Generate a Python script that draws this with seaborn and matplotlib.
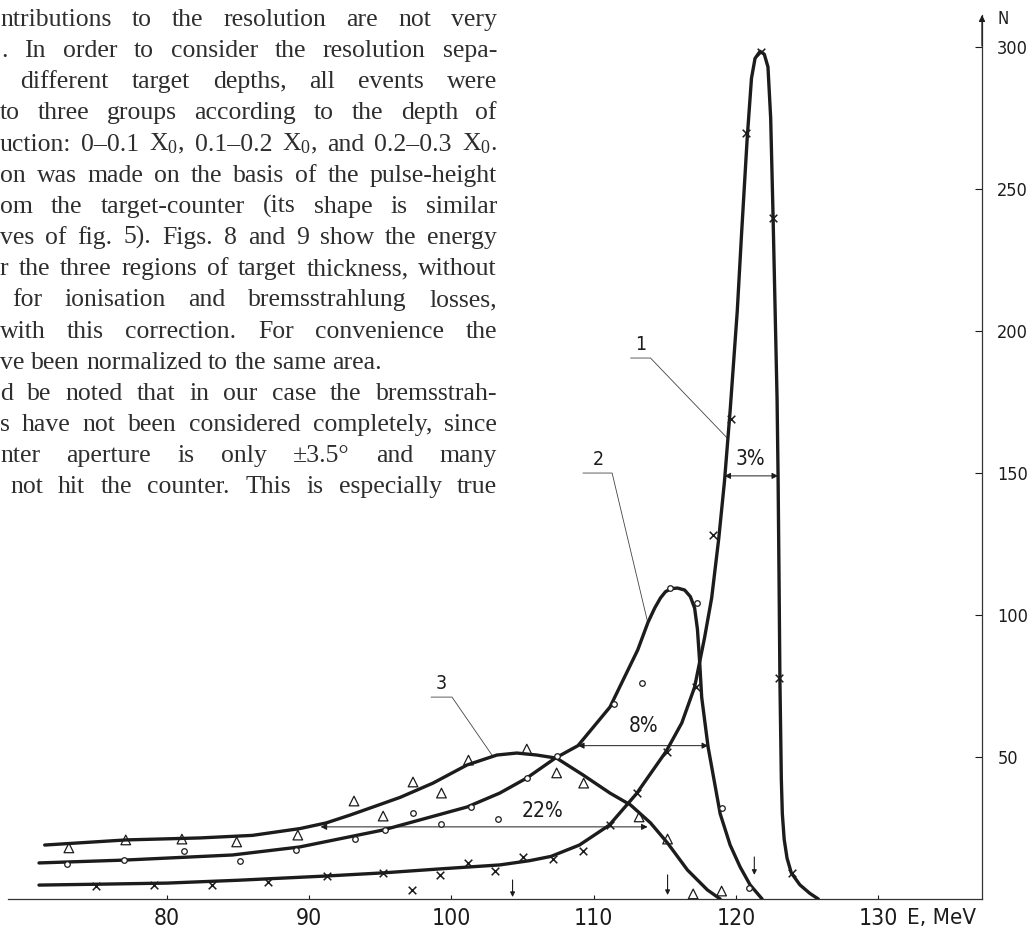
import numpy as np
import pandas as pd
import matplotlib
matplotlib.use("Agg")
import matplotlib.pyplot as plt
import seaborn as sns
from matplotlib import font_manager
from matplotlib.font_manager import FontProperties

# ---------------- data ----------------
# curve 1 (0-0.1 X0, crosses)
E1 = [71.0, 75.0, 80.0, 85.0, 91.2, 95.2, 99.2, 103.4, 105.5, 107.0, 109.0, 111.1,
      113.0, 115.1, 116.2, 117.1, 117.8, 118.3, 118.8, 119.2, 119.6, 120.1, 120.4,
      120.8, 121.1, 121.35, 121.7, 122.0, 122.26, 122.45, 122.62, 122.9, 122.97,
      123.04, 123.1, 123.2, 123.27, 123.4, 123.6, 123.9, 124.5, 125.2, 125.8]
N1 = [4.9, 5.2, 5.6, 6.6, 8.1, 9.2, 10.6, 12.0, 13.5, 15.0, 19.0, 26.0,
      37.0, 52.0, 62.0, 74.6, 92.0, 106.0, 127.0, 147.0, 172.0, 207.0, 234.0,
      268.0, 289.0, 296.0, 298.5, 297.5, 293.0, 275.0, 240.0, 176.0, 149.0,
      112.0, 77.0, 42.0, 30.0, 21.0, 14.4, 9.2, 5.0, 2.0, 0.0]
# curve 2 (0.1-0.2 X0, circles)
E2 = [71.0, 77.0, 84.6, 89.3, 95.2, 101.1, 103.4, 105.3, 107.3, 108.9, 111.15, 113.1,
      113.83, 114.3, 114.7, 115.05, 115.45, 115.9, 116.4, 116.8, 117.1, 117.3, 117.45,
      117.6, 118.05, 118.9, 119.6, 120.3, 121.0, 121.85]
N2 = [12.7, 13.7, 15.5, 18.3, 24.3, 32.4, 37.3, 42.6, 49.6, 54.0, 67.6, 87.7,
      97.5, 102.5, 106.0, 108.2, 109.3, 109.5, 108.8, 106.5, 102.5, 95.0, 84.0,
      71.0, 53.5, 30.0, 19.0, 11.3, 5.0, 0.0]
# curve 3 (0.2-0.3 X0, triangles)
E3 = [71.4, 77.1, 82.3, 86.0, 89.35, 91.2, 92.9, 94.6, 96.4, 98.7, 101.1, 103.2, 104.6,
      106.0, 107.4, 109.25, 111.15, 112.6, 114.0, 115.2, 116.6, 118.0, 118.9]
N3 = [19.0, 20.8, 21.5, 22.4, 24.8, 26.8, 29.6, 32.6, 35.8, 40.8, 47.2, 50.7, 51.4,
      50.7, 49.6, 43.7, 37.3, 33.1, 26.8, 19.7, 10.2, 3.2, 0.0]

# measured points
cross_E = [75.0, 79.1, 83.2, 87.1, 91.25, 95.2, 97.2, 99.2, 101.2, 103.1, 105.0, 107.15,
           109.25, 111.15, 113.05, 115.16, 117.2, 118.4, 119.66, 120.72, 121.77, 122.62,
           123.04, 123.95]
cross_N = [4.6, 4.9, 4.9, 6.0, 8.1, 9.2, 3.2, 8.5, 12.7, 9.9, 14.8, 14.1,
           16.9, 26.1, 37.3, 51.8, 74.6, 128.2, 169.0, 269.7, 298.2, 239.8,
           77.8, 9.2]
circ_E = [73.0, 77.0, 81.2, 85.1, 89.1, 93.2, 95.3, 97.3, 99.3, 101.4, 103.3, 105.3,
          107.4, 111.4, 113.4, 115.4, 117.3, 119.0, 120.9]
circ_N = [12.3, 13.7, 16.9, 13.4, 17.3, 21.1, 24.3, 30.3, 26.4, 32.4, 28.2, 42.6,
          50.4, 68.7, 76.1, 109.5, 104.2, 32.0, 3.9]
tri_E = [73.1, 77.1, 81.05, 84.9, 89.2, 93.15, 95.2, 97.3, 99.3, 101.2, 105.3, 107.4,
         109.3, 113.2, 115.2, 117.0, 119.0]
tri_N = [18.0, 20.8, 21.1, 20.1, 22.5, 34.5, 29.2, 41.2, 37.3, 48.9, 52.8, 44.4,
         40.8, 28.9, 21.1, 1.8, 2.8]

x_ticks = [80, 90, 100, 110, 120, 130]
y_ticks = [50, 100, 150, 200, 250, 300]

widths_lbl = ["3%", "8%", "22%"]
widths_left = [119.2, 108.9, 90.8]
widths_right = [122.97, 118.05, 113.8]
widths_N = [149.0, 54.0, 25.4]
widths_lblE = [121.05, 113.5, 106.4]
widths_lblN = [151.5, 57.5, 27.5]

curve_lbl = ["1", "2", "3"]
curve_lbl_E = [113.3, 110.3, 99.3]
curve_lbl_N = [190.5, 150.0, 71.1]
curve_lbl_x0 = [112.6, 109.25, 98.57]
curve_lbl_x1 = [114.0, 111.3, 100.04]
curve_tip_E = [119.4, 113.8, 102.85]
curve_tip_N = [162.3, 97.5, 50.7]

down_E = [104.3, 115.2, 121.3]
down_top = [6.7, 8.5, 14.8]
down_bot = [0.7, 1.4, 8.5]

text_lines = [
    "ntributions to the resolution are not very",
    ". In order to consider the resolution sepa-",
    "different target depths, all events were",
    "to three groups according to the depth of",
    "uction: 0\u20130.1 X$_0$, 0.1\u20130.2 X$_0$, and 0.2\u20130.3 X$_0$.",
    "on was made on the basis of the pulse-height",
    "om the target-counter (its shape is similar",
    "ves of fig. 5). Figs. 8 and 9 show the energy",
    "r the three regions of target thickness, without",
    "for ionisation and bremsstrahlung losses,",
    "with this correction. For convenience the",
    "ve been normalized to the same area.",
    "d be noted that in our case the bremsstrah-",
    "s have not been considered completely, since",
    "nter aperture is only \u00b13.5\u00b0 and many",
    "not hit the counter. This is especially true",
]
text_left = [0, 1, 20, 0, 0, 0, 0, 0, 0, 12, 0, 0, 0, 0, 0, 10]
text_just = [True] * 16
text_just[11] = False

# ---------------- style ----------------
sns.set_theme(style="white")

def find_narrow():
    cands = []
    for f in font_manager.fontManager.ttflist:
        fn = f.fname.lower()
        st = str(f.stretch).lower()
        if ("condensed" in fn or "narrow" in fn or "condensed" in st
                or "narrow" in st) and "bold" not in fn and "oblique" not in fn \
                and "italic" not in fn and f.weight in (400, "normal", 300, "light"):
            cands.append(f)
    pref = ["DejaVuSansCondensed.ttf", "LiberationSansNarrow-Regular", "RobotoCondensed",
            "Roboto_Condensed", "OpenSans_Condensed", "NotoSans-Condensed"]
    for p in pref:
        for f in cands:
            if p.lower() in f.fname.lower():
                return FontProperties(fname=f.fname)
    if cands:
        return FontProperties(fname=cands[0].fname)
    return FontProperties(family="DejaVu Sans")

narrow_fp = find_narrow()

plt.rcParams["font.family"] = ["Liberation Serif", "DejaVu Serif"]
plt.rcParams["mathtext.fontset"] = "custom"
plt.rcParams["mathtext.rm"] = "Liberation Serif"
plt.rcParams["mathtext.it"] = "Liberation Serif:italic"
plt.rcParams["mathtext.bf"] = "Liberation Serif:bold"

def nfp(size):
    fp = narrow_fp.copy()
    fp.set_size(size)
    return fp

ink = "#1c1c1c"
txt_col = "#2e2e2e"

W, H = 1031, 930
fig = plt.figure(figsize=(W / 100, H / 100), dpi=100)
fig.patch.set_facecolor("white")
ax = fig.add_axes([8 / W, 31 / H, 974 / W, 884 / H])
ax.set_facecolor("none")
ax.set_xlim(68.82, 137.31)
ax.set_ylim(0, 311.3)

for E, N in [(E1, N1), (E2, N2), (E3, N3)]:
    df = pd.DataFrame({"E": E, "N": N})
    sns.lineplot(data=df, x="E", y="N", ax=ax, color=ink, lw=2.4,
                 sort=False, estimator=None, zorder=3)

sns.scatterplot(x=cross_E, y=cross_N, ax=ax, marker="x", s=30, color=ink,
                linewidth=1.1, zorder=4)
sns.scatterplot(x=circ_E, y=circ_N, ax=ax, marker="o", s=16, color=ink, zorder=4)
c = ax.collections[-1]
c.set_facecolor("white"); c.set_edgecolor(ink); c.set_linewidth(0.9)
sns.scatterplot(x=tri_E, y=tri_N, ax=ax, marker="^", s=48, color=ink, zorder=4)
c = ax.collections[-1]
c.set_facecolor("none"); c.set_edgecolor(ink); c.set_linewidth(0.9)

for l, r, n, lab, le, ln in zip(widths_left, widths_right, widths_N, widths_lbl,
                                widths_lblE, widths_lblN):
    ax.annotate("", xy=(l, n), xytext=(r, n),
                arrowprops=dict(arrowstyle="<|-|>", lw=0.7, color=ink,
                                mutation_scale=9, shrinkA=0, shrinkB=0), zorder=2)
    ax.text(le, ln, lab, ha="center", va="bottom", fontproperties=nfp(15), color=ink)

for lab, le, ln, x0, x1, te, tn in zip(curve_lbl, curve_lbl_E, curve_lbl_N, curve_lbl_x0,
                                        curve_lbl_x1, curve_tip_E, curve_tip_N):
    ax.plot([x0, x1, te], [ln, ln, tn], color="#444444", lw=0.6, zorder=2)
    ax.text(le, ln + 1.5, lab, ha="center", va="bottom", fontproperties=nfp(14),
            color=ink)

for e, t, b in zip(down_E, down_top, down_bot):
    ax.annotate("", xy=(e, b), xytext=(e, t),
                arrowprops=dict(arrowstyle="-|>", lw=0.8, color=ink,
                                mutation_scale=7, shrinkA=0, shrinkB=0))

for s in ["top", "left"]:
    ax.spines[s].set_visible(False)
for s in ["bottom", "right"]:
    ax.spines[s].set_visible(True)
    ax.spines[s].set_color("#333333")
    ax.spines[s].set_linewidth(0.9)
ax.yaxis.tick_right()
ax.set_xticks(x_ticks)
ax.set_xticklabels([str(v) for v in x_ticks])
ax.set_yticks(y_ticks)
ax.set_yticklabels([str(v) for v in y_ticks])
ax.tick_params(axis="x", direction="in", length=3, width=0.8, pad=6,
               colors=ink, bottom=True)
ax.tick_params(axis="y", direction="in", length=5, width=0.8, pad=11,
               colors=ink, right=True, left=False)
for t in ax.get_xticklabels():
    t.set_fontproperties(nfp(16.5))
for t in ax.get_yticklabels():
    t.set_fontproperties(nfp(13))
ax.set_xlabel(""); ax.set_ylabel("")
ax.grid(False)

ax.annotate("", xy=(1, 1.0), xycoords="axes fraction", xytext=(1, 0.965),
            arrowprops=dict(arrowstyle="-|>", lw=0.9, color=ink, mutation_scale=9,
                            shrinkA=0, shrinkB=0))
ax.annotate("N", xy=(1, 1.0), xycoords="axes fraction", xytext=(11, -3),
            textcoords="offset points", ha="left", va="center",
            fontproperties=nfp(12), color=ink)
ax.annotate("E, MeV", xy=(134.5, 0), xycoords="data", xytext=(0, -6.5),
            textcoords="offset points", ha="center", va="top",
            fontproperties=nfp(16), color=ink)

# ---------------- justified text paragraph ----------------
renderer = fig.canvas.get_renderer()
fs_txt = 18.5
space_px = 0.25 * fs_txt * 100 / 72
right_px = 497
for i, (line, x0, just) in enumerate(zip(text_lines, text_left, text_just)):
    base = 26 + 31.15 * i
    words = line.split(" ")
    objs = [fig.text(0, 0, w, fontsize=fs_txt, color=txt_col, ha="left",
                     va="baseline") for w in words]
    ws = [o.get_window_extent(renderer).width for o in objs]
    if just:
        gap = (right_px - x0 - sum(ws)) / (len(words) - 1)
    else:
        gap = space_px
    x = x0
    for o, w in zip(objs, ws):
        o.set_position((x / W, 1 - base / H))
        x += w + gap

fig.savefig("out.png", dpi=100, facecolor="white")
